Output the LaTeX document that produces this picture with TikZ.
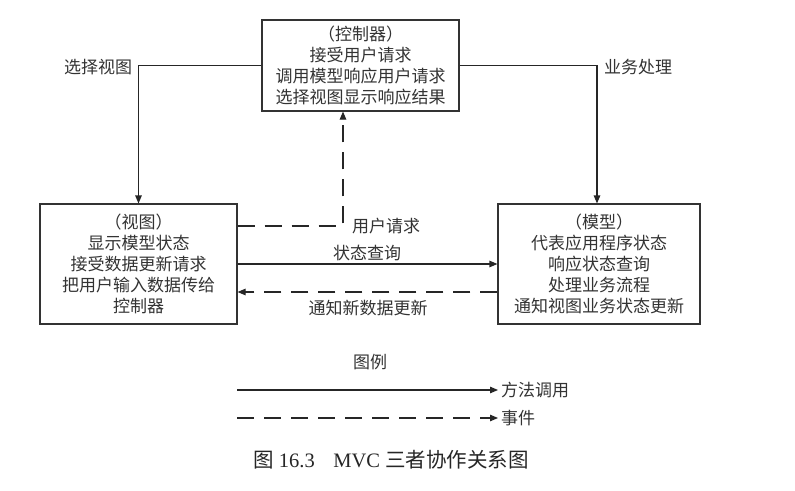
\documentclass[tikz,border=0pt]{standalone}
\usepackage{fontspec}
\setmainfont{Liberation Serif}
\newfontfamily\cjk{Noto Sans CJK SC}
\usetikzlibrary{arrows.meta}
\begin{document}
\begin{tikzpicture}[x=1pt,y=-1pt,
  box/.style={draw=black!80,line width=1.1pt,align=center,inner sep=0pt,
    font=\cjk\fontsize{17}{21}\selectfont,text=black!80},
  lbl/.style={font=\cjk\fontsize{17}{19}\selectfont,text=black!80,inner sep=0pt},
  arr/.style={draw=black!85,line width=1.1pt,-{Triangle[length=8pt,width=6.5pt]}},
  evt/.style={draw=black!85,line width=1.1pt,dash pattern=on 17pt off 10pt,-{Triangle[length=8pt,width=6.5pt]}}
]
\useasboundingbox[fill=white] (0,0) rectangle (795,490);

\node[box,minimum width=197pt,minimum height=91pt] (ctrl) at (360.5,65.5)
  {（控制器）\\接受用户请求\\调用模型响应用户请求\\选择视图显示响应结果};
\node[box,minimum width=197pt,minimum height=120pt] (view) at (138.5,264)
  {（视图）\\显示模型状态\\接受数据更新请求\\把用户输入数据传给\\控制器};
\node[box,minimum width=202pt,minimum height=120pt] (model) at (599,264)
  {（模型）\\代表应用程序状态\\响应状态查询\\处理业务流程\\通知视图业务状态更新};

\draw[arr] (ctrl.west) -| (view.north);
\draw[arr] (ctrl.east) -| ([xshift=-2pt]model.north);
\draw[evt] ([yshift=38pt]view.east) -| ([xshift=-17.5pt]ctrl.south);
\draw[arr] (view.east) -- (model.west);
\draw[evt] ([yshift=-28pt]model.west) -- ([yshift=-28pt]view.east);

\node[lbl] (lsel) at (98,67) {选择视图};
\node[lbl] (lbiz) at (638,67) {业务处理};
\node[lbl,anchor=west] (lreq) at (352,226) {用户请求};
\node[lbl] (lqry) at (367,253) {状态查询};
\node[lbl] (lnot) at (368,308) {通知新数据更新};

\node[lbl] (legend) at (370,362) {图例};
\coordinate (a1) at (237,390);
\coordinate (a2) at (498,390);
\coordinate (b1) at (237,418);
\coordinate (b2) at (498,418);
\draw[arr] (a1) -- (a2);
\draw[evt] (b1) -- (b2);
\node[lbl,anchor=west] (lcall) at (501,390) {方法调用};
\node[lbl,anchor=west] (levt) at (501,418) {事件};

\node[text=black!85,inner sep=0pt,font=\fontsize{20.5}{24}\selectfont] (cap) at (391,460)
  {{\cjk 图} 16.3\hspace{0.9em}MVC {\cjk 三者协作关系图}};
\end{tikzpicture}
\end{document}
